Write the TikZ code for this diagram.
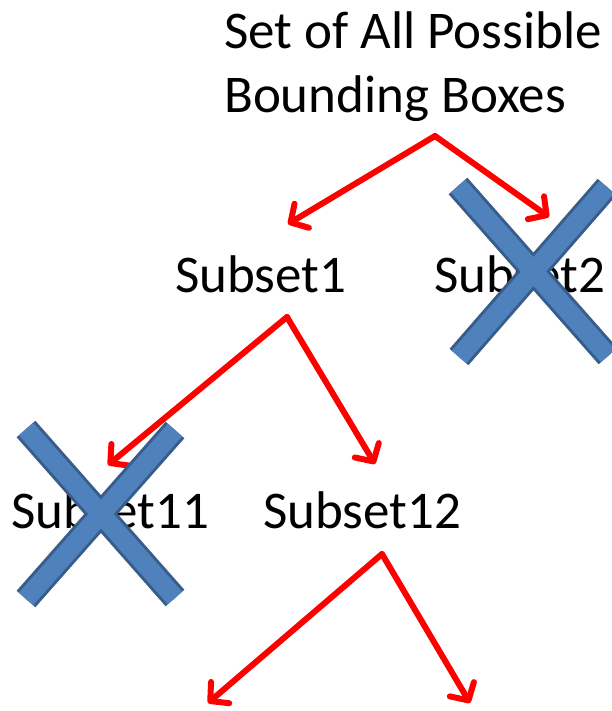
\documentclass[tikz,border=0pt]{standalone}
\usepackage{fontspec}
\setmainfont{Carlito}
\usetikzlibrary{arrows.meta}
\definecolor{xfill}{RGB}{79,129,189}
\definecolor{xline}{RGB}{56,93,138}
\tikzset{
  lbl/.style={anchor=base west, inner sep=0pt, font=\fontsize{53}{64}\selectfont},
  redarrow/.style={draw=red, line width=6pt, line cap=round, line join=round,
    -{Straight Barb[length=13pt, width=28pt, line cap=round, line join=round]}},
}
\newcommand{\crossmark}[5]{%
  % #1 name, #2 tl, #3 br, #4 tr, #5 bl
  \draw[xline, line width=25pt] #2 -- #3 #4 -- #5;
  \draw[xfill, line width=19pt] #2 -- #3 #4 -- #5;
}
\begin{document}
\begin{tikzpicture}[x=1pt, y=-1pt]
\useasboundingbox (0,0) rectangle (612,711);
% texts
\node[lbl, align=left] (title) at (224,113) {Set of All Possible\\Bounding Boxes};
\node[lbl] (s1) at (175,292) {Subset1};
\node[lbl] (s2) at (434,292) {Subset2};
\node[lbl] (s11) at (11,528) {Subset11};
\node[lbl] (s12) at (263,528) {Subset12};
% connector points
\coordinate (r0) at (435,136);
\coordinate (a1) at (288,224);
\coordinate (a2) at (549,217);
\coordinate (r1) at (287,317);
\coordinate (a11) at (108,465);
\coordinate (a12) at (375,464);
\coordinate (r2) at (382,554);
\coordinate (a121) at (208,703);
\coordinate (a122) at (470,703);
\draw[redarrow] (r0) -- (a1);
\draw[redarrow] (r0) -- (a2);
\draw[redarrow] (r1) -- (a11);
\draw[redarrow] (r1) -- (a12);
\draw[redarrow] (r2) -- (a121);
\draw[redarrow] (r2) -- (a122);
% crosses
\crossmark{x1}{(458,186)}{(608,356)}{(607,187)}{(459,357)}
\crossmark{x2}{(26,429)}{(175,598)}{(175,430)}{(26,599)}
\end{tikzpicture}
\end{document}
